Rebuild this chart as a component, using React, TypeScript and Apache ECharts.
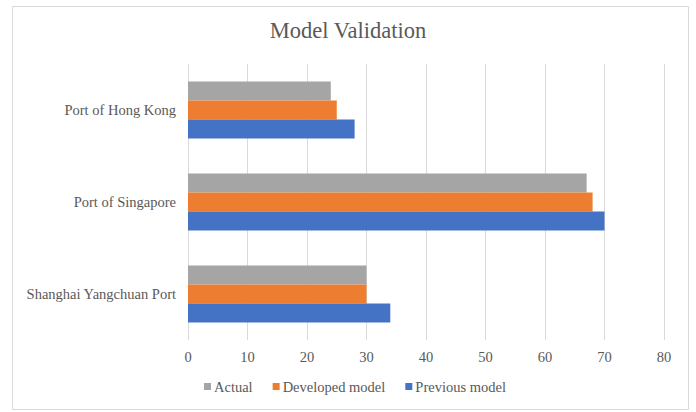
import React, { useEffect, useRef } from "react";
import * as echarts from "echarts";

const categories = ["Shanghai Yangchuan Port", "Port of Singapore", "Port of Hong Kong"];
const previousModel = [34, 70, 28];
const developedModel = [30, 68, 25];
const actual = [30, 67, 24];
const xTicks = { min: 0, max: 80, interval: 10 };

const FONT = "Liberation Serif";
const TEXT = "#595959";
const SMALL = 14.5;

export default function App() {
  const ref = useRef<HTMLDivElement>(null);
  useEffect(() => {
    if (!ref.current) return;
    const chart = echarts.init(ref.current, null, { renderer: "svg" });
    chart.setOption({
      animation: false,
      backgroundColor: "#ffffff",
      title: {
        text: "Model Validation",
        left: "center",
        top: 19,
        padding: 0,
        textStyle: { fontFamily: FONT, fontSize: 22.5, fontWeight: "normal", color: TEXT },
      },
      graphic: [
        {
          type: "rect",
          shape: { x: 12.5, y: 6.5, width: 676, height: 403 },
          style: { fill: "none", stroke: "#d9d9d9", lineWidth: 1 },
          silent: true,
        },
      ],
      legend: {
        data: ["Actual", "Developed model", "Previous model"],
        bottom: 18,
        left: 204,
        padding: 0,
        icon: "rect",
        itemWidth: 7,
        itemHeight: 7,
        itemGap: 20,
        textStyle: { fontFamily: FONT, fontSize: SMALL, color: TEXT, padding: [0, 0, 0, -2] },
      },
      grid: { left: 188, right: 32, top: 64, bottom: 72, containLabel: false },
      xAxis: {
        type: "value",
        min: xTicks.min,
        max: xTicks.max,
        interval: xTicks.interval,
        axisLine: { show: false },
        axisTick: { show: false },
        axisLabel: { fontFamily: FONT, fontSize: SMALL, color: TEXT, margin: 9 },
        splitLine: { show: true, lineStyle: { color: "#d9d9d9", width: 1 } },
      },
      yAxis: {
        type: "category",
        data: categories,
        axisLine: { show: false },
        axisTick: { show: false },
        axisLabel: { fontFamily: FONT, fontSize: SMALL, color: TEXT, margin: 12 },
        splitLine: { show: false },
      },
      series: [
        {
          name: "Actual",
          type: "bar",
          data: actual,
          barWidth: 19,
          barGap: "0%",
          itemStyle: { color: "#a5a5a5" },
        },
        {
          name: "Developed model",
          type: "bar",
          data: developedModel,
          barWidth: 19,
          barGap: "0%",
          itemStyle: { color: "#ed7d31" },
        },
        {
          name: "Previous model",
          type: "bar",
          data: previousModel,
          barWidth: 19,
          barGap: "0%",
          itemStyle: { color: "#4472c4" },
        },
      ],
    });
    return () => chart.dispose();
  }, []);
  return (
    <div
      ref={ref}
      style={{ position: "fixed", left: 0, top: 0, width: 696, height: 412 }}
    />
  );
}
